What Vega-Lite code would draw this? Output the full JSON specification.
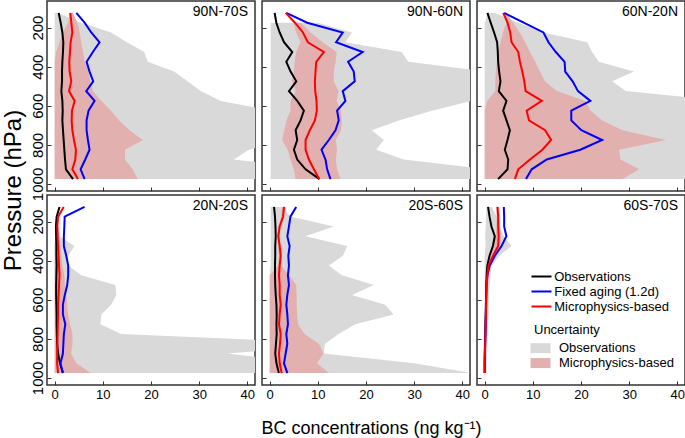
{
  "$schema": "https://vega.github.io/schema/vega-lite/v6.json",
  "padding": {"left": 0, "top": 0, "right": 0, "bottom": 0},
  "datasets": {
    "d": [
      {"panel":"90N-70S","p":125,"obs":0.83,"fix":4.48,"mic":3.24,"olo":0,"ohi":0.7,"mlo":3.1,"mhi":3.8},
      {"panel":"90N-70S","p":175,"obs":1.24,"fix":6.21,"mic":3.45,"olo":0,"ohi":5.5,"mlo":2.8,"mhi":4.7},
      {"panel":"90N-70S","p":225,"obs":1.59,"fix":7.59,"mic":3.66,"olo":0,"ohi":11.7,"mlo":1.7,"mhi":5.2},
      {"panel":"90N-70S","p":275,"obs":1.79,"fix":9.31,"mic":3.31,"olo":0,"ohi":15,"mlo":1.0,"mhi":5.5},
      {"panel":"90N-70S","p":325,"obs":1.72,"fix":7.93,"mic":3.17,"olo":0,"ohi":18.6,"mlo":0.3,"mhi":5.9},
      {"panel":"90N-70S","p":375,"obs":1.59,"fix":6.62,"mic":3.03,"olo":0,"ohi":19.3,"mlo":0,"mhi":6.2},
      {"panel":"90N-70S","p":425,"obs":1.52,"fix":7.24,"mic":3.10,"olo":0,"ohi":24.8,"mlo":0,"mhi":7.0},
      {"panel":"90N-70S","p":475,"obs":1.52,"fix":8.0,"mic":3.45,"olo":0,"ohi":27.6,"mlo":0,"mhi":7.4},
      {"panel":"90N-70S","p":525,"obs":1.38,"fix":6.55,"mic":2.97,"olo":0,"ohi":30.3,"mlo":0,"mhi":7.9},
      {"panel":"90N-70S","p":575,"obs":1.59,"fix":8.28,"mic":4.14,"olo":0,"ohi":34.5,"mlo":0,"mhi":9.7},
      {"panel":"90N-70S","p":625,"obs":1.66,"fix":7.03,"mic":3.59,"olo":0,"ohi":45,"mlo":0,"mhi":11.7},
      {"panel":"90N-70S","p":675,"obs":1.59,"fix":6.62,"mic":3.52,"olo":0,"ohi":48,"mlo":0,"mhi":13.4},
      {"panel":"90N-70S","p":725,"obs":1.72,"fix":6.62,"mic":3.66,"olo":0,"ohi":48,"mlo":0,"mhi":15.5},
      {"panel":"90N-70S","p":775,"obs":1.86,"fix":6.9,"mic":4.0,"olo":0,"ohi":48,"mlo":0,"mhi":18.3},
      {"panel":"90N-70S","p":825,"obs":2.0,"fix":7.24,"mic":4.41,"olo":0,"ohi":40.3,"mlo":0,"mhi":14.6},
      {"panel":"90N-70S","p":875,"obs":2.14,"fix":6.34,"mic":4.28,"olo":0,"ohi":37.2,"mlo":0,"mhi":14.6},
      {"panel":"90N-70S","p":925,"obs":2.34,"fix":5.38,"mic":3.66,"olo":0,"ohi":55,"mlo":0,"mhi":16.2},
      {"panel":"90N-70S","p":975,"obs":3.8,"fix":6.21,"mic":4.83,"olo":0,"ohi":55,"mlo":0,"mhi":17.2},

      {"panel":"90N-60N","p":125,"obs":1.03,"fix":3.45,"mic":3.31,"olo":null,"ohi":null,"mlo":null,"mhi":null},
      {"panel":"90N-60N","p":175,"obs":1.38,"fix":7.79,"mic":5.24,"olo":0.2,"ohi":10,"mlo":5.0,"mhi":6.5},
      {"panel":"90N-60N","p":225,"obs":2.07,"fix":15.17,"mic":6.9,"olo":0.2,"ohi":17.1,"mlo":5.5,"mhi":8.5},
      {"panel":"90N-60N","p":275,"obs":2.97,"fix":13.79,"mic":7.93,"olo":0.2,"ohi":15.7,"mlo":6.4,"mhi":11},
      {"panel":"90N-60N","p":325,"obs":4.69,"fix":19.31,"mic":11.24,"olo":0.2,"ohi":27.4,"mlo":5.5,"mhi":13.9},
      {"panel":"90N-60N","p":375,"obs":3.45,"fix":16.28,"mic":9.66,"olo":0.2,"ohi":28.8,"mlo":5.2,"mhi":13.7},
      {"panel":"90N-60N","p":425,"obs":4.34,"fix":17.45,"mic":9.52,"olo":0.2,"ohi":45,"mlo":5.0,"mhi":13.3},
      {"panel":"90N-60N","p":475,"obs":5.52,"fix":17.66,"mic":9.38,"olo":0.2,"ohi":50,"mlo":4.6,"mhi":13.3},
      {"panel":"90N-60N","p":525,"obs":4.0,"fix":15.17,"mic":9.45,"olo":0.2,"ohi":50,"mlo":5.4,"mhi":14.3},
      {"panel":"90N-60N","p":575,"obs":5.72,"fix":15.72,"mic":9.72,"olo":0.2,"ohi":42,"mlo":4.3,"mhi":13.9},
      {"panel":"90N-60N","p":625,"obs":7.1,"fix":14.0,"mic":9.79,"olo":0.2,"ohi":33.7,"mlo":4.3,"mhi":14.8},
      {"panel":"90N-60N","p":675,"obs":6.41,"fix":14.34,"mic":9.38,"olo":0.2,"ohi":26.8,"mlo":3.5,"mhi":15.0},
      {"panel":"90N-60N","p":725,"obs":5.38,"fix":13.66,"mic":8.34,"olo":0.2,"ohi":21.2,"mlo":3.0,"mhi":14.8},
      {"panel":"90N-60N","p":775,"obs":5.72,"fix":12.28,"mic":7.45,"olo":0.2,"ohi":23.7,"mlo":2.6,"mhi":13.7},
      {"panel":"90N-60N","p":825,"obs":5.03,"fix":10.76,"mic":7.45,"olo":0.2,"ohi":22.1,"mlo":3.7,"mhi":14.0},
      {"panel":"90N-60N","p":875,"obs":5.72,"fix":11.59,"mic":8.14,"olo":0.2,"ohi":27.8,"mlo":4.3,"mhi":13.7},
      {"panel":"90N-60N","p":925,"obs":7.45,"fix":11.93,"mic":9.17,"olo":0.2,"ohi":45,"mlo":5.0,"mhi":14.0},
      {"panel":"90N-60N","p":975,"obs":10.34,"fix":12.62,"mic":10.28,"olo":0.2,"ohi":45,"mlo":5.4,"mhi":14.7},

      {"panel":"60N-20N","p":125,"obs":0.56,"fix":4.04,"mic":3.83,"olo":0.7,"ohi":2.1,"mlo":4.0,"mhi":4.5},
      {"panel":"60N-20N","p":175,"obs":1.25,"fix":8.1,"mic":4.74,"olo":0,"ohi":7.0,"mlo":4.5,"mhi":5.9},
      {"panel":"60N-20N","p":225,"obs":1.95,"fix":12.2,"mic":5.3,"olo":0,"ohi":12.2,"mlo":3.8,"mhi":7.3},
      {"panel":"60N-20N","p":275,"obs":2.58,"fix":13.24,"mic":5.57,"olo":0,"ohi":21.3,"mlo":3.3,"mhi":8.4},
      {"panel":"60N-20N","p":325,"obs":2.72,"fix":14.77,"mic":6.97,"olo":0,"ohi":22.3,"mlo":2.8,"mhi":9.4},
      {"panel":"60N-20N","p":375,"obs":2.79,"fix":16.59,"mic":7.32,"olo":0,"ohi":23.7,"mlo":2.5,"mhi":10.5},
      {"panel":"60N-20N","p":425,"obs":3.0,"fix":16.72,"mic":7.8,"olo":0,"ohi":31.0,"mlo":2.3,"mhi":11.5},
      {"panel":"60N-20N","p":475,"obs":3.28,"fix":18.26,"mic":8.22,"olo":0,"ohi":26.5,"mlo":2.2,"mhi":12.5},
      {"panel":"60N-20N","p":525,"obs":2.93,"fix":19.37,"mic":8.5,"olo":0,"ohi":29.3,"mlo":2.2,"mhi":15},
      {"panel":"60N-20N","p":575,"obs":4.53,"fix":21.95,"mic":11.85,"olo":0,"ohi":50,"mlo":0.5,"mhi":20.9},
      {"panel":"60N-20N","p":625,"obs":3.83,"fix":17.98,"mic":8.71,"olo":0,"ohi":50,"mlo":0,"mhi":22},
      {"panel":"60N-20N","p":675,"obs":4.53,"fix":17.98,"mic":9.2,"olo":0,"ohi":50,"mlo":0,"mhi":24.4},
      {"panel":"60N-20N","p":725,"obs":5.23,"fix":20.07,"mic":12.54,"olo":0,"ohi":50,"mlo":0,"mhi":28.6},
      {"panel":"60N-20N","p":775,"obs":4.74,"fix":24.39,"mic":13.8,"olo":0,"ohi":50,"mlo":0,"mhi":37.6},
      {"panel":"60N-20N","p":825,"obs":4.18,"fix":19.86,"mic":11.99,"olo":0,"ohi":50,"mlo":0,"mhi":27.9},
      {"panel":"60N-20N","p":875,"obs":4.88,"fix":12.89,"mic":9.41,"olo":0,"ohi":50,"mlo":0,"mhi":28.2},
      {"panel":"60N-20N","p":925,"obs":4.74,"fix":9.76,"mic":6.97,"olo":0,"ohi":50,"mlo":0,"mhi":32.1},
      {"panel":"60N-20N","p":975,"obs":2.79,"fix":8.57,"mic":6.27,"olo":0,"ohi":50,"mlo":0,"mhi":28.6},

      {"panel":"20N-20S","p":125,"obs":1.0,"fix":6.2,"mic":1.86,"olo":null,"ohi":null,"mlo":null,"mhi":null},
      {"panel":"20N-20S","p":175,"obs":0.4,"fix":2.07,"mic":0.7,"olo":null,"ohi":null,"mlo":null,"mhi":null},
      {"panel":"20N-20S","p":225,"obs":0.25,"fix":2.0,"mic":0.55,"olo":null,"ohi":null,"mlo":0.3,"mhi":0.8},
      {"panel":"20N-20S","p":275,"obs":0.3,"fix":1.9,"mic":0.6,"olo":0.3,"ohi":1.0,"mlo":0.1,"mhi":1.0},
      {"panel":"20N-20S","p":325,"obs":0.35,"fix":1.9,"mic":0.7,"olo":0,"ohi":4.1,"mlo":0,"mhi":1.2},
      {"panel":"20N-20S","p":375,"obs":0.35,"fix":2.4,"mic":0.8,"olo":0,"ohi":2.8,"mlo":0,"mhi":1.4},
      {"panel":"20N-20S","p":425,"obs":0.4,"fix":2.8,"mic":0.9,"olo":0,"ohi":2.8,"mlo":0,"mhi":1.6},
      {"panel":"20N-20S","p":475,"obs":0.35,"fix":2.8,"mic":1.0,"olo":0,"ohi":5.5,"mlo":0,"mhi":2.0},
      {"panel":"20N-20S","p":525,"obs":0.3,"fix":2.6,"mic":0.9,"olo":0,"ohi":12.6,"mlo":0,"mhi":2.1},
      {"panel":"20N-20S","p":575,"obs":0.3,"fix":2.1,"mic":0.8,"olo":0,"ohi":12.8,"mlo":0,"mhi":2.4},
      {"panel":"20N-20S","p":625,"obs":0.35,"fix":1.7,"mic":0.7,"olo":0,"ohi":11.7,"mlo":0,"mhi":2.6},
      {"panel":"20N-20S","p":675,"obs":0.4,"fix":1.7,"mic":0.7,"olo":0,"ohi":9.7,"mlo":0,"mhi":2.8},
      {"panel":"20N-20S","p":725,"obs":0.4,"fix":2.2,"mic":0.65,"olo":0,"ohi":9.5,"mlo":0,"mhi":3.2},
      {"panel":"20N-20S","p":775,"obs":0.45,"fix":1.9,"mic":0.6,"olo":0,"ohi":13.8,"mlo":0,"mhi":3.7},
      {"panel":"20N-20S","p":825,"obs":0.5,"fix":1.8,"mic":0.55,"olo":0,"ohi":60,"mlo":0,"mhi":3.7},
      {"panel":"20N-20S","p":875,"obs":0.7,"fix":1.7,"mic":0.5,"olo":0,"ohi":35.9,"mlo":0,"mhi":3.4},
      {"panel":"20N-20S","p":925,"obs":1.1,"fix":1.2,"mic":0.5,"olo":0,"ohi":53,"mlo":0,"mhi":4.5},
      {"panel":"20N-20S","p":975,"obs":1.7,"fix":1.7,"mic":0.7,"olo":0,"ohi":53,"mlo":0,"mhi":7.5},

      {"panel":"20S-60S","p":125,"obs":0.9,"fix":5.5,"mic":2.97,"olo":0.2,"ohi":2.5,"mlo":2.6,"mhi":3.3},
      {"panel":"20S-60S","p":175,"obs":1.1,"fix":4.3,"mic":2.76,"olo":0.2,"ohi":4.5,"mlo":2.4,"mhi":3.1},
      {"panel":"20S-60S","p":225,"obs":1.2,"fix":4.0,"mic":2.07,"olo":0.2,"ohi":13.3,"mlo":1.8,"mhi":2.4},
      {"panel":"20S-60S","p":275,"obs":1.25,"fix":3.66,"mic":1.79,"olo":0.2,"ohi":7.4,"mlo":1.5,"mhi":2.1},
      {"panel":"20S-60S","p":325,"obs":1.15,"fix":4.14,"mic":2.07,"olo":0.2,"ohi":16.1,"mlo":1.7,"mhi":2.4},
      {"panel":"20S-60S","p":375,"obs":1.15,"fix":3.86,"mic":2.28,"olo":0.2,"ohi":15.2,"mlo":1.9,"mhi":2.6},
      {"panel":"20S-60S","p":425,"obs":1.1,"fix":4.0,"mic":2.07,"olo":0.2,"ohi":12.3,"mlo":1.7,"mhi":2.4},
      {"panel":"20S-60S","p":475,"obs":1.1,"fix":3.79,"mic":1.93,"olo":0,"ohi":15.0,"mlo":0,"mhi":4.0},
      {"panel":"20S-60S","p":525,"obs":1.15,"fix":4.0,"mic":2.07,"olo":0,"ohi":21.6,"mlo":0,"mhi":5.5},
      {"panel":"20S-60S","p":575,"obs":1.25,"fix":3.66,"mic":2.07,"olo":0,"ohi":17.1,"mlo":0,"mhi":5.6},
      {"panel":"20S-60S","p":625,"obs":1.4,"fix":3.45,"mic":2.28,"olo":0,"ohi":24.0,"mlo":0,"mhi":5.6},
      {"panel":"20S-60S","p":675,"obs":1.45,"fix":3.66,"mic":2.07,"olo":0,"ohi":25.7,"mlo":0,"mhi":5.7},
      {"panel":"20S-60S","p":725,"obs":1.4,"fix":3.79,"mic":1.93,"olo":0,"ohi":17.8,"mlo":0,"mhi":5.9},
      {"panel":"20S-60S","p":775,"obs":1.45,"fix":3.45,"mic":2.28,"olo":0,"ohi":14.3,"mlo":0,"mhi":7.2},
      {"panel":"20S-60S","p":825,"obs":1.3,"fix":3.66,"mic":2.14,"olo":0,"ohi":11.5,"mlo":0,"mhi":10.2},
      {"panel":"20S-60S","p":875,"obs":1.15,"fix":3.31,"mic":1.93,"olo":0,"ohi":11.2,"mlo":0,"mhi":11.2},
      {"panel":"20S-60S","p":925,"obs":1.4,"fix":2.97,"mic":2.07,"olo":0,"ohi":30,"mlo":0,"mhi":9.8},
      {"panel":"20S-60S","p":975,"obs":1.9,"fix":3.66,"mic":2.48,"olo":0,"ohi":42,"mlo":0,"mhi":12.3},

      {"panel":"60S-70S","p":125,"obs":0.7,"fix":3.97,"mic":2.65,"olo":0.4,"ohi":1.5,"mlo":2.4,"mhi":3.0},
      {"panel":"60S-70S","p":175,"obs":1.0,"fix":4.04,"mic":2.8,"olo":0.3,"ohi":2.5,"mlo":2.5,"mhi":3.1},
      {"panel":"60S-70S","p":225,"obs":1.4,"fix":4.04,"mic":2.8,"olo":0.2,"ohi":3.0,"mlo":2.4,"mhi":3.2},
      {"panel":"60S-70S","p":275,"obs":2.1,"fix":4.5,"mic":2.9,"olo":0.1,"ohi":4.0,"mlo":2.3,"mhi":3.4},
      {"panel":"60S-70S","p":325,"obs":1.7,"fix":3.5,"mic":2.8,"olo":0.2,"ohi":5.6,"mlo":1.8,"mhi":3.2},
      {"panel":"60S-70S","p":375,"obs":1.0,"fix":2.1,"mic":1.74,"olo":0,"ohi":3.0,"mlo":1.2,"mhi":2.2},
      {"panel":"60S-70S","p":425,"obs":0.55,"fix":1.05,"mic":0.8,"olo":0,"ohi":1.5,"mlo":0.5,"mhi":1.1},
      {"panel":"60S-70S","p":475,"obs":0.4,"fix":0.55,"mic":0.55,"olo":0,"ohi":1.2,"mlo":0.3,"mhi":0.8},
      {"panel":"60S-70S","p":525,"obs":0.35,"fix":0.35,"mic":0.4,"olo":0,"ohi":1.0,"mlo":0.2,"mhi":0.6},
      {"panel":"60S-70S","p":575,"obs":0.3,"fix":0.3,"mic":0.35,"olo":0,"ohi":0.9,"mlo":0.15,"mhi":0.5},
      {"panel":"60S-70S","p":625,"obs":0.25,"fix":0.28,"mic":0.3,"olo":0,"ohi":0.8,"mlo":0.1,"mhi":0.5},
      {"panel":"60S-70S","p":675,"obs":0.2,"fix":0.25,"mic":0.25,"olo":0,"ohi":0.8,"mlo":0.1,"mhi":0.4},
      {"panel":"60S-70S","p":725,"obs":0.15,"fix":0.2,"mic":0.2,"olo":0,"ohi":0.7,"mlo":0.05,"mhi":0.35},
      {"panel":"60S-70S","p":775,"obs":0.1,"fix":0.15,"mic":0.15,"olo":0,"ohi":0.6,"mlo":0.05,"mhi":0.3},
      {"panel":"60S-70S","p":825,"obs":0.05,"fix":0.1,"mic":0.1,"olo":0,"ohi":0.6,"mlo":0,"mhi":0.25},
      {"panel":"60S-70S","p":875,"obs":0.0,"fix":0.05,"mic":0.05,"olo":0,"ohi":0.5,"mlo":0,"mhi":0.2},
      {"panel":"60S-70S","p":925,"obs":0.0,"fix":0.0,"mic":0.0,"olo":0,"ohi":0.4,"mlo":0,"mhi":0.15},
      {"panel":"60S-70S","p":975,"obs":0.0,"fix":0.0,"mic":0.0,"olo":-0.1,"ohi":0.4,"mlo":0,"mhi":0.1}
    ]
  },
  "data": {"name": "d"},
  "columns": 3,
  "spacing": {"row": 4, "column": 7},
  "bounds": "flush",
  "concat": [
    {
      "width": 208, "height": 190,
      "title": {"text": "90N-70S", "fontWeight": "normal"},
      "transform": [{"filter": "datum.panel == '90N-70S'"}],
      "layer": [
        {"mark": {"type": "area", "orient": "horizontal", "clip": true},
         "encoding": {
           "y": {"field": "p", "type": "quantitative", "scale": {"domain": [64, 1036], "reverse": true, "nice": false, "zero": false},
             "axis": {"labels": true, "title": "Pressure (hPa)", "titleX": -34, "titleY": 189, "titleAngle": -90, "titleAlign": "center", "titleBaseline": "middle", "titleFontSize": 24}},
           "x": {"field": "olo", "type": "quantitative", "stack": null, "scale": {"domain": [-1.6, 41.6], "nice": false, "zero": false}, "axis": {"title": null}},
           "x2": {"field": "ohi"},
           "fill": {"datum": "Observations", "type": "nominal", "scale": {"domain": ["Observations", "Microphysics-based"], "range": ["#d9d9d9", "#e3b0b0"]},
             "legend": {"title": "Uncertainty", "orient": "none", "legendX": 487, "legendY": 323, "symbolType": "M-2,-1H2V1H-2Z", "symbolSize": 100, "symbolStrokeWidth": 0, "symbolOpacity": 1, "labelOffset": 12, "rowPadding": 0.9, "titlePadding": 4.7, "labelFontSize": 13, "titleFontSize": 13, "titleFontWeight": "normal", "padding": 0}}
         }},
        {"mark": {"type": "area", "orient": "horizontal", "clip": true},
         "encoding": {
           "y": {"field": "p", "type": "quantitative"},
           "x": {"field": "mlo", "type": "quantitative", "stack": null},
           "x2": {"field": "mhi"},
           "fill": {"datum": "Microphysics-based", "type": "nominal"}
         }},
        {"transform": [{"fold": ["obs", "fix", "mic"]}],
         "mark": {"type": "line", "strokeWidth": 2, "clip": true},
         "encoding": {
           "y": {"field": "p", "type": "quantitative"},
           "x": {"field": "value", "type": "quantitative"},
           "order": {"field": "p", "type": "quantitative"},
           "stroke": {"field": "key", "type": "nominal", "scale": {"domain": ["obs", "fix", "mic"], "range": ["#000000", "#0000ff", "#ff0000"]},
             "legend": {"title": null, "orient": "none", "legendX": 488, "legendY": 269, "symbolType": "M-2,0H2", "symbolSize": 100, "symbolStrokeWidth": 2, "labelOffset": 6.2, "rowPadding": 1, "labelFontSize": 13, "padding": 0,
               "labelExpr": "datum.label == 'obs' ? 'Observations' : datum.label == 'fix' ? 'Fixed aging (1.2d)' : 'Microphysics-based'"}}
         }}
      ]
    },
    {
      "width": 208, "height": 190,
      "title": {"text": "90N-60N", "fontWeight": "normal"},
      "transform": [{"filter": "datum.panel == '90N-60N'"}],
      "layer": [
        {"mark": {"type": "area", "orient": "horizontal", "clip": true},
         "encoding": {
           "y": {"field": "p", "type": "quantitative", "scale": {"domain": [64, 1036], "reverse": true, "nice": false, "zero": false}, "axis": {"title": null}},
           "x": {"field": "olo", "type": "quantitative", "stack": null, "scale": {"domain": [-1.6, 41.6], "nice": false, "zero": false}, "axis": {"title": null}},
           "x2": {"field": "ohi"},
           "fill": {"datum": "Observations", "type": "nominal"}
         }},
        {"mark": {"type": "area", "orient": "horizontal", "clip": true},
         "encoding": {
           "y": {"field": "p", "type": "quantitative"},
           "x": {"field": "mlo", "type": "quantitative", "stack": null},
           "x2": {"field": "mhi"},
           "fill": {"datum": "Microphysics-based", "type": "nominal"}
         }},
        {"transform": [{"fold": ["obs", "fix", "mic"]}],
         "mark": {"type": "line", "strokeWidth": 2, "clip": true},
         "encoding": {
           "y": {"field": "p", "type": "quantitative"},
           "x": {"field": "value", "type": "quantitative"},
           "order": {"field": "p", "type": "quantitative"},
           "stroke": {"field": "key", "type": "nominal"}
         }}
      ]
    },
    {
      "width": 208, "height": 190,
      "title": {"text": "60N-20N", "fontWeight": "normal"},
      "transform": [{"filter": "datum.panel == '60N-20N'"}],
      "layer": [
        {"mark": {"type": "area", "orient": "horizontal", "clip": true},
         "encoding": {
           "y": {"field": "p", "type": "quantitative", "scale": {"domain": [64, 1036], "reverse": true, "nice": false, "zero": false}, "axis": {"title": null}},
           "x": {"field": "olo", "type": "quantitative", "stack": null, "scale": {"domain": [-1.6, 41.6], "nice": false, "zero": false}, "axis": {"title": null}},
           "x2": {"field": "ohi"},
           "fill": {"datum": "Observations", "type": "nominal"}
         }},
        {"mark": {"type": "area", "orient": "horizontal", "clip": true},
         "encoding": {
           "y": {"field": "p", "type": "quantitative"},
           "x": {"field": "mlo", "type": "quantitative", "stack": null},
           "x2": {"field": "mhi"},
           "fill": {"datum": "Microphysics-based", "type": "nominal"}
         }},
        {"transform": [{"fold": ["obs", "fix", "mic"]}],
         "mark": {"type": "line", "strokeWidth": 2, "clip": true},
         "encoding": {
           "y": {"field": "p", "type": "quantitative"},
           "x": {"field": "value", "type": "quantitative"},
           "order": {"field": "p", "type": "quantitative"},
           "stroke": {"field": "key", "type": "nominal"}
         }}
      ]
    },
    {
      "width": 208, "height": 190,
      "title": {"text": "20N-20S", "fontWeight": "normal"},
      "transform": [{"filter": "datum.panel == '20N-20S'"}],
      "layer": [
        {"mark": {"type": "area", "orient": "horizontal", "clip": true},
         "encoding": {
           "y": {"field": "p", "type": "quantitative", "scale": {"domain": [64, 1036], "reverse": true, "nice": false, "zero": false}, "axis": {"labels": true, "title": null}},
           "x": {"field": "olo", "type": "quantitative", "stack": null, "scale": {"domain": [-1.6, 41.6], "nice": false, "zero": false}, "axis": {"labels": true, "title": null}},
           "x2": {"field": "ohi"},
           "fill": {"datum": "Observations", "type": "nominal"}
         }},
        {"mark": {"type": "area", "orient": "horizontal", "clip": true},
         "encoding": {
           "y": {"field": "p", "type": "quantitative"},
           "x": {"field": "mlo", "type": "quantitative", "stack": null},
           "x2": {"field": "mhi"},
           "fill": {"datum": "Microphysics-based", "type": "nominal"}
         }},
        {"transform": [{"fold": ["obs", "fix", "mic"]}],
         "mark": {"type": "line", "strokeWidth": 2, "clip": true},
         "encoding": {
           "y": {"field": "p", "type": "quantitative"},
           "x": {"field": "value", "type": "quantitative"},
           "order": {"field": "p", "type": "quantitative"},
           "stroke": {"field": "key", "type": "nominal"}
         }}
      ]
    },
    {
      "width": 208, "height": 190,
      "title": {"text": "20S-60S", "fontWeight": "normal"},
      "transform": [{"filter": "datum.panel == '20S-60S'"}],
      "layer": [
        {"mark": {"type": "area", "orient": "horizontal", "clip": true},
         "encoding": {
           "y": {"field": "p", "type": "quantitative", "scale": {"domain": [64, 1036], "reverse": true, "nice": false, "zero": false}, "axis": {"title": null}},
           "x": {"field": "olo", "type": "quantitative", "stack": null, "scale": {"domain": [-1.6, 41.6], "nice": false, "zero": false},
             "axis": {"labels": true, "title": "BC concentrations (ng kg⁻¹)", "titleX": 109, "titleY": 48, "titleAlign": "center", "titleBaseline": "alphabetic", "titleFontSize": 18}},
           "x2": {"field": "ohi"},
           "fill": {"datum": "Observations", "type": "nominal"}
         }},
        {"mark": {"type": "area", "orient": "horizontal", "clip": true},
         "encoding": {
           "y": {"field": "p", "type": "quantitative"},
           "x": {"field": "mlo", "type": "quantitative", "stack": null},
           "x2": {"field": "mhi"},
           "fill": {"datum": "Microphysics-based", "type": "nominal"}
         }},
        {"transform": [{"fold": ["obs", "fix", "mic"]}],
         "mark": {"type": "line", "strokeWidth": 2, "clip": true},
         "encoding": {
           "y": {"field": "p", "type": "quantitative"},
           "x": {"field": "value", "type": "quantitative"},
           "order": {"field": "p", "type": "quantitative"},
           "stroke": {"field": "key", "type": "nominal"}
         }}
      ]
    },
    {
      "width": 208, "height": 190,
      "title": {"text": "60S-70S", "fontWeight": "normal"},
      "transform": [{"filter": "datum.panel == '60S-70S'"}],
      "layer": [
        {"mark": {"type": "area", "orient": "horizontal", "clip": true},
         "encoding": {
           "y": {"field": "p", "type": "quantitative", "scale": {"domain": [64, 1036], "reverse": true, "nice": false, "zero": false}, "axis": {"title": null}},
           "x": {"field": "olo", "type": "quantitative", "stack": null, "scale": {"domain": [-1.6, 41.6], "nice": false, "zero": false}, "axis": {"labels": true, "title": null}},
           "x2": {"field": "ohi"},
           "fill": {"datum": "Observations", "type": "nominal"}
         }},
        {"mark": {"type": "area", "orient": "horizontal", "clip": true},
         "encoding": {
           "y": {"field": "p", "type": "quantitative"},
           "x": {"field": "mlo", "type": "quantitative", "stack": null},
           "x2": {"field": "mhi"},
           "fill": {"datum": "Microphysics-based", "type": "nominal"}
         }},
        {"transform": [{"fold": ["obs", "fix", "mic"]}],
         "mark": {"type": "line", "strokeWidth": 2, "clip": true},
         "encoding": {
           "y": {"field": "p", "type": "quantitative"},
           "x": {"field": "value", "type": "quantitative"},
           "order": {"field": "p", "type": "quantitative"},
           "stroke": {"field": "key", "type": "nominal"}
         }}
      ]
    }
  ],
  "config": {
    "font": "Liberation Sans",
    "background": "white",
    "view": {"stroke": "#333333", "strokeWidth": 1.5},
    "title": {"anchor": "end", "frame": "group", "offset": -18, "dx": -7, "baseline": "alphabetic", "fontSize": 14, "fontWeight": "normal", "color": "#000000", "font": "Liberation Sans"},
    "axis": {"domain": false, "grid": false, "ticks": true, "tickSize": -4, "tickColor": "#333333", "tickWidth": 1, "labels": false, "labelFont": "Liberation Sans", "labelColor": "#000000", "titleFont": "Liberation Sans", "titleFontWeight": "normal", "titleColor": "#000000"},
    "axisX": {"values": [0, 10, 20, 30, 40], "labelPadding": 7, "labelFontSize": 13},
    "axisY": {"values": [200, 400, 600, 800, 1000], "format": "d", "labelAngle": -90, "labelAlign": "center", "labelBaseline": "alphabetic", "labelPadding": 8.5, "labelFontSize": 15},
    "legend": {"labelFont": "Liberation Sans", "titleFont": "Liberation Sans", "labelColor": "#000000", "titleColor": "#000000"}
  }
}
